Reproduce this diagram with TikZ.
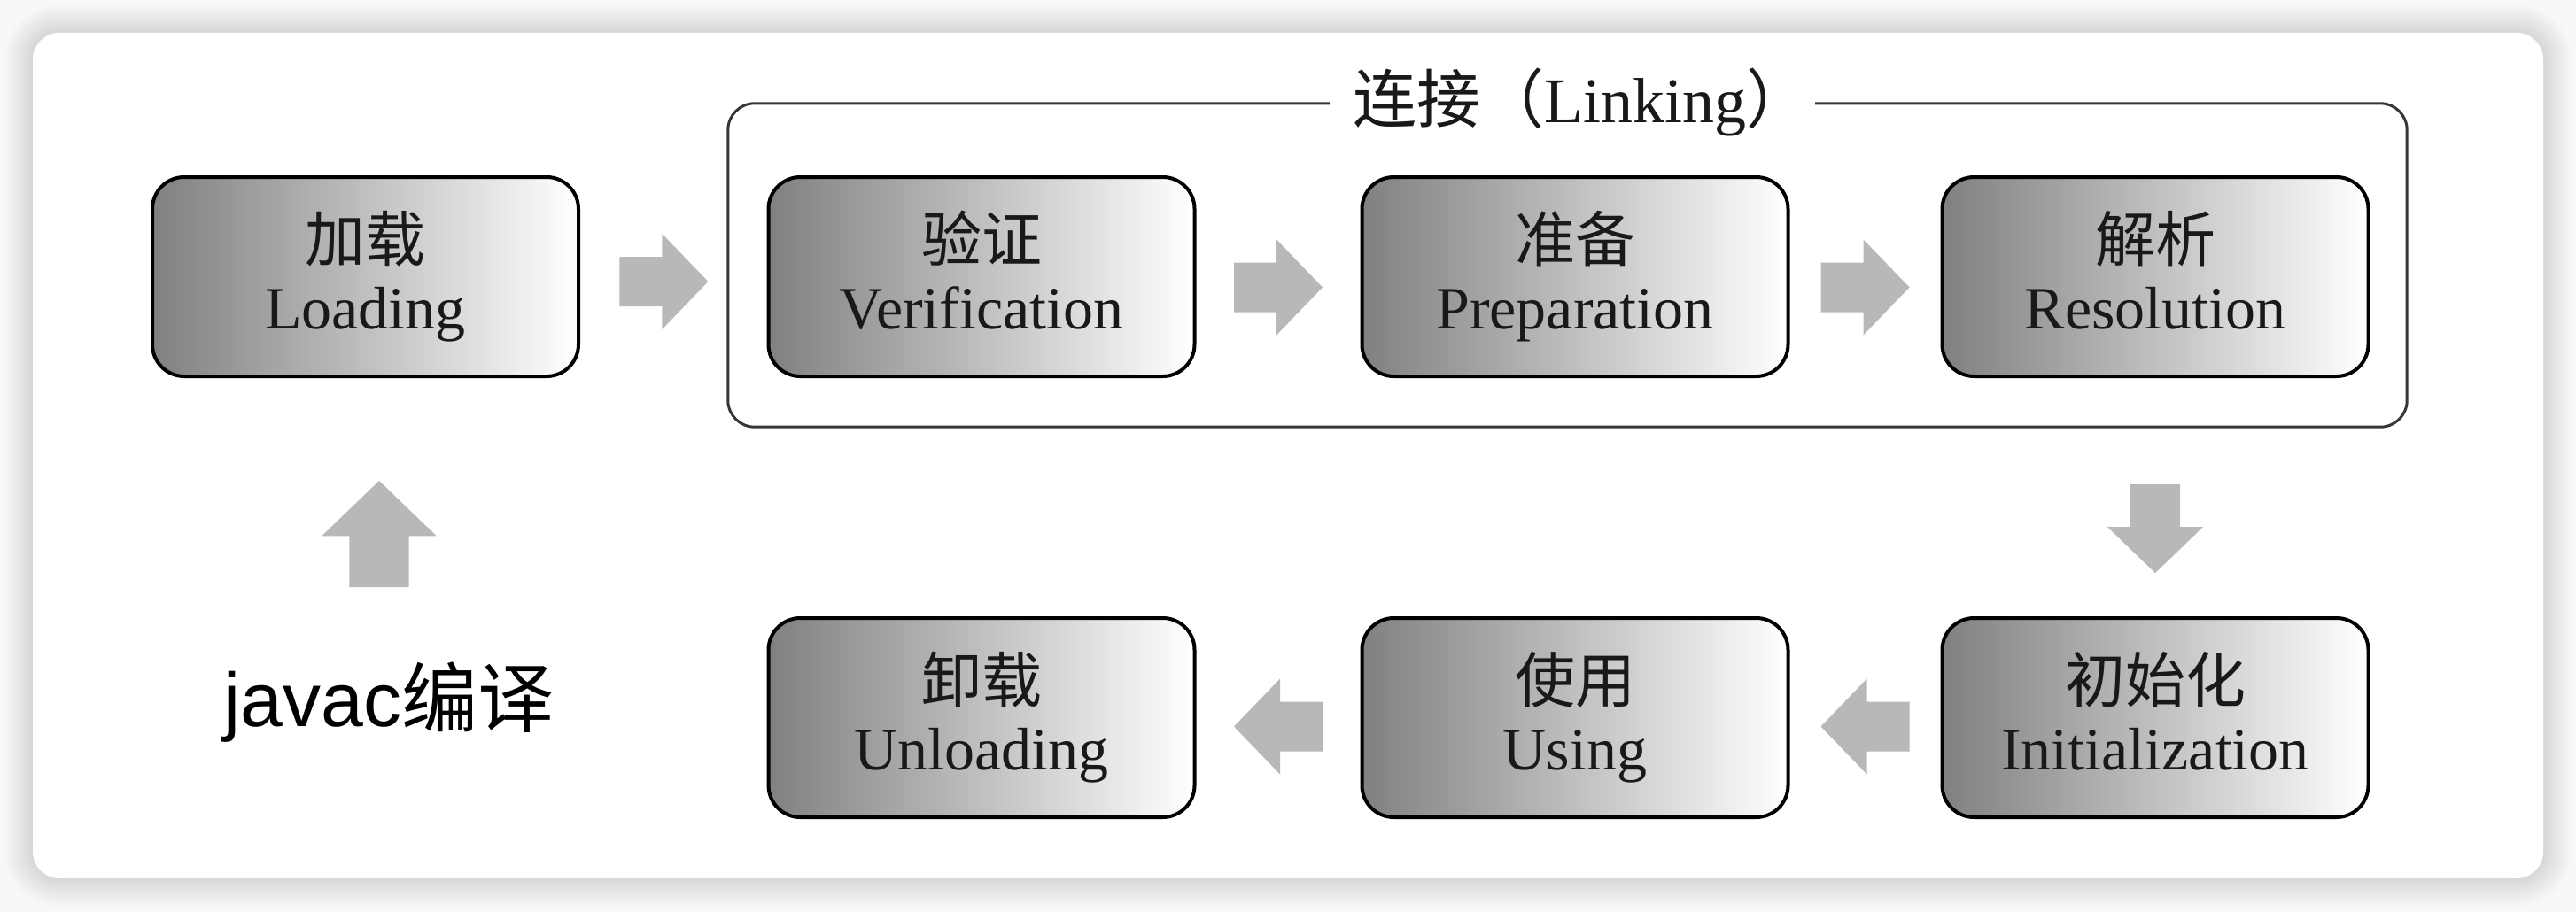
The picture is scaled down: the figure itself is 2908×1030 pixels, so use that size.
\documentclass[tikz,border=0pt]{standalone}
\usepackage{fontspec}
\setmainfont{Liberation Serif}
\newfontfamily\cjk{Noto Sans CJK SC}
\newfontfamily\sanslat{Liberation Sans}
\usetikzlibrary{calc}
\definecolor{boxdark}{RGB}{128,128,128}
\definecolor{arrowgray}{RGB}{184,184,184}
\definecolor{bggray}{RGB}{248,248,248}
\definecolor{framegray}{RGB}{55,55,55}
\definecolor{txtdark}{RGB}{25,25,25}
\newcommand\stagetext[2]{{\cjk #1}\\#2\vphantom{g}}
\tikzset{
  stagebox/.style={draw=black, line width=4pt, rounded corners=36pt,
    minimum width=481pt, minimum height=225pt, inner sep=0pt,
    left color=boxdark, right color=white, align=center, text=txtdark,
    font=\fontsize{68}{76}\selectfont},
  framepath/.style={draw=framegray, line width=3pt, rounded corners=30pt},
  pics/blockarrow/.style={code={
    \fill[arrowgray] (-50,-28) -- (-2,-28) -- (-2,-54) -- (50,0) -- (-2,54) -- (-2,28) -- (-50,28) -- cycle;}}
}
\begin{document}
\begin{tikzpicture}[x=1pt,y=-1pt]
\useasboundingbox (0,0) rectangle (2908,1030);
% background and card shadow
\fill[bggray] (0,0) rectangle (2908,1030);
\foreach \k in {2,4,...,32}{
  \fill[black, fill opacity=0.009, rounded corners={30pt+\k pt}] (37-\k,37-\k) rectangle (2871+\k,992+\k);
}
\fill[white, rounded corners=30pt] (37,37) rectangle (2871,992);

% stage boxes
\node[stagebox] (load)   at (412.5,312.5) {\stagetext{加载}{Loading}};
\node[stagebox] (verif)  at (1108,312.5)  {\stagetext{验证}{Verification}};
\node[stagebox] (prep)   at (1778,312.5)  {\stagetext{准备}{Preparation}};
\node[stagebox] (res)    at (2433,312.5)  {\stagetext{解析}{Resolution}};
\node[stagebox] (unload) at (1108,810.5)  {\stagetext{卸载}{Unloading}};
\node[stagebox] (using)  at (1778,810.5)  {\stagetext{使用}{Using}};
\node[stagebox] (init)   at (2433,810.5)  {\stagetext{初始化}{Initialization}};

% linking frame
\node[minimum width=1895pt, minimum height=365pt, inner sep=0pt] (linkframe) at (1769.5,299.5) {};
\node[anchor=base, inner xsep=0pt, text=txtdark, font=\fontsize{72}{80}\selectfont] (linklabel) at (1785,139)
  {{\cjk 连接（}Linking{\cjk ）}};
\draw[framepath] ($(linklabel.west |- linkframe.north)+(-26,0)$) -- (linkframe.north west) -- (linkframe.south west)
  -- (linkframe.south east) -- (linkframe.north east) -- ($(linklabel.east |- linkframe.north)+(6,0)$);

% javac label
\node[anchor=base, inner sep=0pt, font=\fontsize{86}{96}\selectfont] (javac) at (439,820) {{\sanslat javac}{\cjk 编译}};

% arrows
\coordinate (a1) at ($(load.east)!0.5!(linkframe.west)+(11,12)$);
\coordinate (a2) at ($(verif.east)!0.5!(prep.west)+(0,12)$);
\coordinate (a3) at ($(prep.east)!0.5!(res.west)+(0,12)$);
\coordinate (a4) at ($(res.south |- linkframe.south)!0.5!(init.north)+(0,8)$);
\coordinate (a5) at ($(using.east)!0.5!(init.west)+(0,10)$);
\coordinate (a6) at ($(unload.east)!0.5!(using.west)+(0,10)$);
\coordinate (a7) at ($(load.south -| javac.north)+(-11,176)$);
\pic at (a1) {blockarrow};
\pic at (a2) {blockarrow};
\pic at (a3) {blockarrow};
\pic[rotate=-90] at (a4) {blockarrow};
\pic[rotate=180] at (a5) {blockarrow};
\pic[rotate=180] at (a6) {blockarrow};
\pic[rotate=90, scale=1.2] at (a7) {blockarrow};
\end{tikzpicture}
\end{document}
